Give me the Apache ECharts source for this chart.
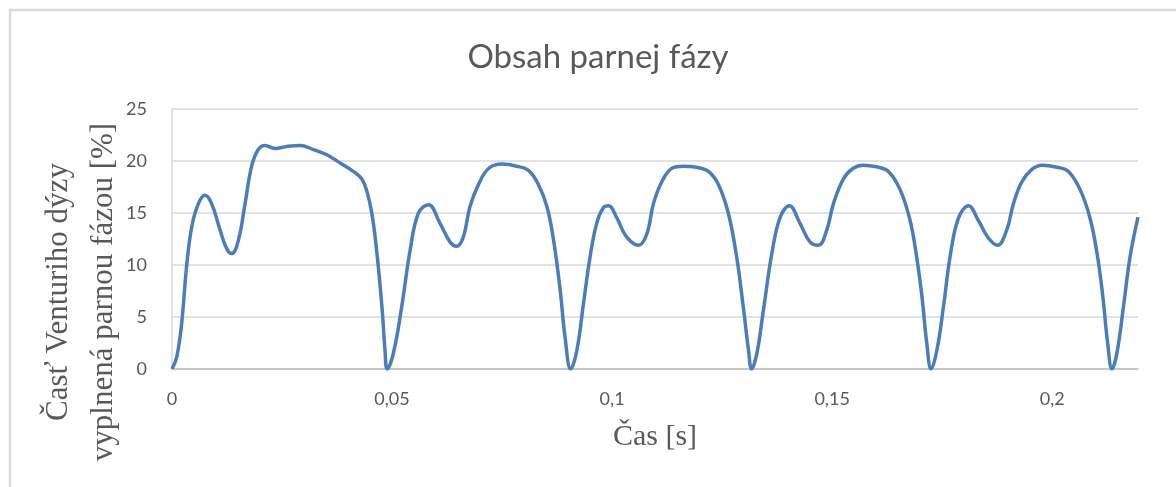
<!DOCTYPE html>
<html>
<head>
<meta charset="utf-8">
<script src="https://cdn.jsdelivr.net/npm/echarts@6/dist/echarts.min.js"></script>
<style>
  html, body { margin: 0; padding: 0; background: #ffffff; }
  #chart { width: 1176px; height: 487px; }
</style>
</head>
<body>
<div id="chart"></div>
<script>
// Time [s]
const time = [
  0, 0.0011, 0.0022, 0.0033, 0.0045, 0.0060, 0.0075, 0.0090, 0.0109, 0.0124,
  0.0136, 0.0151, 0.0166, 0.0181, 0.0196, 0.0211, 0.0234, 0.0261, 0.0291, 0.0321,
  0.0352, 0.0382, 0.0412, 0.0431, 0.0442, 0.0454, 0.0465, 0.0477, 0.0484, 0.0489,
  0.0503, 0.0522, 0.0541, 0.0560, 0.0583, 0.0609, 0.0632, 0.0647, 0.0662, 0.0677,
  0.0697, 0.0720, 0.0750, 0.0783, 0.0810, 0.0833, 0.0852, 0.0867, 0.0882, 0.0893,
  0.0906, 0.0920, 0.0935, 0.0950, 0.0965, 0.0980, 0.0992, 0.1011, 0.1033, 0.1060,
  0.1079, 0.1094, 0.1113, 0.1136, 0.1162, 0.1192, 0.1219, 0.1242, 0.1264, 0.1283,
  0.1298, 0.1310, 0.1317, 0.1329, 0.1344, 0.1363, 0.1382, 0.1403, 0.1427, 0.1450,
  0.1469, 0.1488, 0.1503, 0.1526, 0.1548, 0.1571, 0.1600, 0.1628, 0.1655, 0.1677,
  0.1692, 0.1704, 0.1715, 0.1725, 0.1738, 0.1753, 0.1768, 0.1787, 0.1810, 0.1832,
  0.1855, 0.1876, 0.1897, 0.1912, 0.1931, 0.1954, 0.1977, 0.2011, 0.2037, 0.2064,
  0.2086, 0.2102, 0.2115, 0.2126, 0.2136, 0.2147, 0.2162, 0.2177, 0.2195
];

// Vapour-filled share of the Venturi nozzle [%]
const vaporShare = [
  0, 1.2, 4.4, 9.8, 13.7, 15.9, 16.7, 15.9, 13.4, 11.6,
  11.1, 12.4, 15.9, 19.5, 21.1, 21.5, 21.2, 21.4, 21.5, 21.1,
  20.6, 19.8, 19.0, 18.3, 17.2, 15.0, 11.4, 6.0, 1.8, 0,
  1.5, 6.0, 11.4, 15.0, 15.8, 14.0, 12.2, 11.8, 12.7, 15.6,
  17.8, 19.3, 19.7, 19.5, 19.1, 17.7, 15.6, 12.4, 7.6, 3.1,
  0, 1.8, 6.3, 10.8, 14.0, 15.5, 15.7, 14.5, 12.7, 11.9,
  13.0, 15.9, 18.0, 19.3, 19.5, 19.4, 19.0, 17.7, 15.0, 10.8,
  6.0, 1.8, 0, 1.5, 5.7, 11.1, 14.6, 15.7, 14.0, 12.2,
  11.9, 13.4, 15.9, 18.3, 19.3, 19.6, 19.45, 19.0, 17.2, 14.3,
  10.8, 7.0, 2.5, 0, 1.8, 6.0, 10.8, 14.5, 15.7, 14.3,
  12.6, 11.9, 13.4, 15.9, 18.0, 19.2, 19.6, 19.4, 19.0, 17.2,
  14.5, 11.1, 7.0, 2.5, 0, 1.5, 6.0, 10.8, 14.6
];

const chartTitle = 'Obsah parnej fázy';
const xTitle = 'Čas [s]';
const yTitleLines = ['Časť Venturiho dýzy', 'vyplnená parnou fázou [%]'];

const chart = echarts.init(document.getElementById('chart'), null, { renderer: 'canvas' });

const labelColor = '#595959';

chart.setOption({
  backgroundColor: '#ffffff',
  animation: false,
  grid: { left: 172, right: 38, top: 109, bottom: 118, containLabel: false },
  xAxis: {
    type: 'value',
    min: 0,
    max: time[time.length - 1],
    interval: 0.05,
    name: xTitle,
    nameLocation: 'middle',
    nameGap: 53,
    nameTextStyle: { fontFamily: 'Liberation Serif', fontSize: 30, color: labelColor },
    axisLine: { show: true, lineStyle: { color: '#bfbfbf', width: 1.5 } },
    axisTick: { show: false },
    splitLine: { show: false },
    axisLabel: {
      showMaxLabel: false,
      margin: 21,
      fontFamily: 'Lato',
      fontSize: 18,
      color: labelColor,
      formatter: v => String(parseFloat(v.toFixed(4))).replace('.', ',')
    }
  },
  yAxis: {
    type: 'value',
    min: 0,
    max: 25,
    interval: 5,
    axisLine: { show: true, lineStyle: { color: '#d9d9d9', width: 1.5 } },
    axisTick: { show: false },
    splitLine: { show: true, lineStyle: { color: '#d9d9d9', width: 1.5 } },
    axisLabel: {
      margin: 25,
      fontFamily: 'Lato',
      fontSize: 18,
      color: labelColor
    }
  },
  series: [{
    type: 'line',
    data: time.map((t, i) => [t, vaporShare[i]]),
    showSymbol: false,
    smooth: 0.4,
    lineStyle: { color: '#4a7ebb', width: 3.5 },
    itemStyle: { color: '#4a7ebb' }
  }],
  graphic: [
    {
      type: 'rect',
      silent: true,
      shape: { x: 10, y: 10, width: 1400, height: 700 },
      style: { fill: null, stroke: '#d9d9d9', lineWidth: 2.5 },
      z: -1
    },
    {
      type: 'text',
      x: 598,
      y: 57,
      style: {
        text: chartTitle,
        fontFamily: 'Lato',
        fontWeight: 'normal',
        fontSize: 33,
        fill: labelColor,
        textAlign: 'center',
        textVerticalAlign: 'middle'
      }
    },
    {
      type: 'text',
      x: 81,
      y: 292,
      rotation: Math.PI / 2,
      style: {
        text: yTitleLines.join('\n'),
        fontFamily: 'Liberation Serif',
        fontSize: 31,
        lineHeight: 45,
        fill: labelColor,
        textAlign: 'center',
        textVerticalAlign: 'middle'
      }
    }
  ]
});
</script>
</body>
</html>
